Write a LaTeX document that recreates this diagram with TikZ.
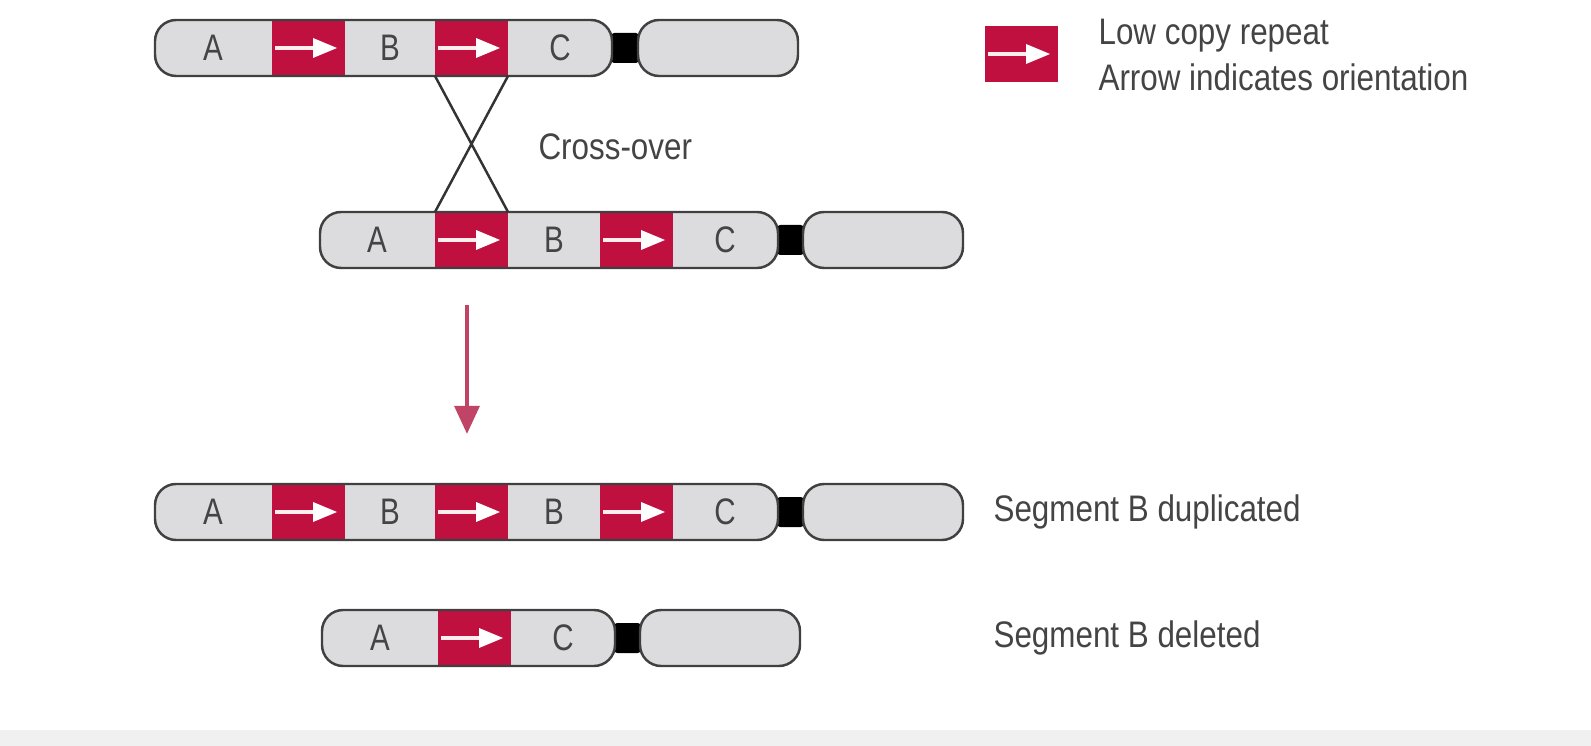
\documentclass[tikz,border=0pt]{standalone}
\usepackage{fontspec}
\setmainfont{Liberation Sans}
\usetikzlibrary{arrows.meta,positioning}
\definecolor{lcrred}{HTML}{C0103F}
\definecolor{armgray}{HTML}{DCDCDE}
\definecolor{txtgray}{HTML}{444444}
\definecolor{bandgray}{HTML}{F0F0F0}
\definecolor{flecherose}{HTML}{C04466}
\tikzset{
  arm/.style={draw=black!75, line width=0.7pt, rounded corners=6pt},
  lcr/.style={fill=lcrred},
  centro/.style={fill=black, rounded corners=1.5pt},
  lettre/.style={font=\fontsize{10.5}{12}\selectfont, text=txtgray, xscale=0.8},
  legende/.style={font=\fontsize{10.5}{12}\selectfont, text=txtgray, xscale=0.85, anchor=west},
}
% bras de chromosome : x debut, x fin, y centre
\newcommand\brasChrom[3]{\fill[armgray,rounded corners=6pt] (#1,#3-28) rectangle (#2,#3+28);}
\newcommand\contourChrom[3]{\draw[arm] (#1,#3-28) rectangle (#2,#3+28);}
% repetition : x debut, y centre
\newcommand\repLCR[2]{%
  \fill[lcr] (#1,#2-28) rectangle ++(73,56);
  \draw[white!70!pink, line width=1.3pt] (#1+3,#2) -- ++(40,0);
  \fill[white] (#1+41,#2-10) -- (#1+65,#2) -- (#1+41,#2+10) -- cycle;}
% centromere : x debut, x fin, y centre
\newcommand\centroChrom[3]{\fill[centro] (#1-3,#3-15) rectangle (#2+3,#3+15);}
\begin{document}
\begin{tikzpicture}[x=0.01cm,y=-0.01cm]
\useasboundingbox (0,0) rectangle (1591,746);
\fill[bandgray] (0,730) rectangle (1591,746);

%%%%%%%% chromosome 1
\centroChrom{612}{638}{48}
\brasChrom{155}{612}{48}
\brasChrom{638}{798}{48}
\repLCR{272}{48}
\repLCR{435}{48}
\contourChrom{155}{612}{48}
\contourChrom{638}{798}{48}
\node[lettre] (a1) at (213,48) {A};
\node[lettre] (b1) at (390,48) {B};
\node[lettre] (c1) at (560,48) {C};

%%%%%%%% chromosome 2
\centroChrom{778}{803}{240}
\brasChrom{320}{778}{240}
\brasChrom{803}{963}{240}
\repLCR{435}{240}
\repLCR{600}{240}
\contourChrom{320}{778}{240}
\contourChrom{803}{963}{240}
\node[lettre] (a2) at (377,240) {A};
\node[lettre] (b2) at (554,240) {B};
\node[lettre] (c2) at (725,240) {C};

%%%%%%%% cross-over
\coordinate (h1) at (435,76); \coordinate (h2) at (508,76);
\coordinate (b1x) at (435,212); \coordinate (b2x) at (508,212);
\draw[black!80, line width=0.7pt] (h1) -- (b2x) (h2) -- (b1x);
\node[legende] (cross) at (528,147) {Cross-over};

%%%%%%%% fleche
\coordinate (fh) at (467,305); \coordinate (fb) at (467,434);
\draw[flecherose, line width=1.3pt, -{Triangle[length=8pt,width=7pt]}] (fh) -- (fb);

%%%%%%%% chromosome duplique
\centroChrom{778}{803}{512}
\brasChrom{155}{778}{512}
\brasChrom{803}{963}{512}
\repLCR{272}{512}
\repLCR{435}{512}
\repLCR{600}{512}
\contourChrom{155}{778}{512}
\contourChrom{803}{963}{512}
\node[lettre] (a3) at (213,512) {A};
\node[lettre] (b3) at (390,512) {B};
\node[lettre] (b4) at (554,512) {B};
\node[lettre] (c3) at (725,512) {C};
\node[legende] (dup) at (983,512) {Segment B duplicated};

%%%%%%%% chromosome deletion
\centroChrom{615}{640}{638}
\brasChrom{322}{615}{638}
\brasChrom{640}{800}{638}
\repLCR{438}{638}
\contourChrom{322}{615}{638}
\contourChrom{640}{800}{638}
\node[lettre] (a5) at (380,638) {A};
\node[lettre] (c5) at (563,638) {C};
\node[legende] (del) at (983,638) {Segment B deleted};

%%%%%%%% legende
\repLCR{985}{54}
\node[legende] (leg1) at (1088,36) {Low copy repeat};
\node[legende] (leg2) at (1088,77) {Arrow indicates orientation};
\end{tikzpicture}
\end{document}
